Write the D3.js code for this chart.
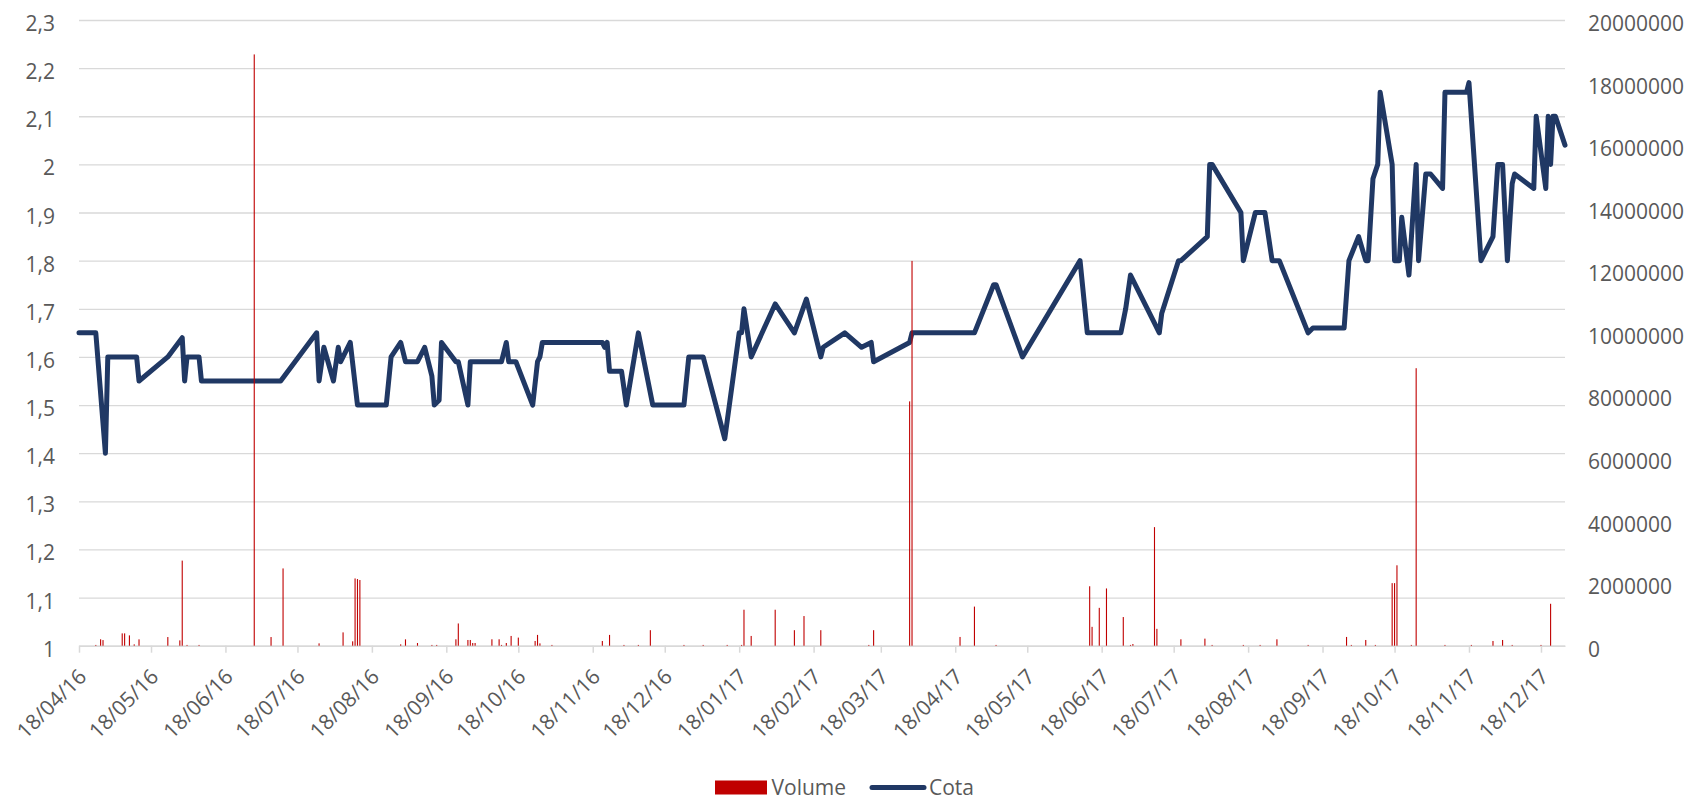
<!DOCTYPE html>
<html><head><meta charset="utf-8">
<script src="https://cdn.jsdelivr.net/npm/d3@7"></script>
<style>
body{margin:0;background:#fff;}
svg text{font-family:"Open Sans",sans-serif;fill:#595959;}
</style>
</head><body>
<svg id="chart" width="1687" height="800"></svg>
<script>
// ---------- DATA ----------
const seriesNames = ["Volume", "Cota"];

const cotaDates = [
"2016-04-18","2016-04-25","2016-04-29","2016-04-30","2016-05-12","2016-05-13","2016-05-25","2016-05-31","2016-06-01","2016-06-02",
"2016-06-07","2016-06-08","2016-07-11","2016-07-26","2016-07-27","2016-07-29","2016-08-02","2016-08-04","2016-08-05","2016-08-09",
"2016-08-12","2016-08-24","2016-08-26","2016-08-30","2016-09-01","2016-09-06","2016-09-09","2016-09-12","2016-09-13","2016-09-15",
"2016-09-16","2016-09-22","2016-09-23","2016-09-27","2016-09-28","2016-10-11","2016-10-13","2016-10-14","2016-10-17","2016-10-24",
"2016-10-26","2016-10-27","2016-10-28","2016-11-22","2016-11-23","2016-11-24","2016-11-25","2016-11-30","2016-12-02","2016-12-07",
"2016-12-13","2016-12-26","2016-12-28","2017-01-03","2017-01-12","2017-01-18","2017-01-19","2017-01-20","2017-01-23","2017-02-02",
"2017-02-10","2017-02-15","2017-02-21","2017-02-22","2017-03-03","2017-03-10","2017-03-14","2017-03-15","2017-03-30","2017-03-31",
"2017-04-26","2017-05-04","2017-05-05","2017-05-16","2017-06-09","2017-06-12","2017-06-26","2017-06-28","2017-06-30","2017-07-10",
"2017-07-12","2017-07-13","2017-07-20","2017-07-21","2017-08-01","2017-08-02","2017-08-03","2017-08-15","2017-08-16","2017-08-21",
"2017-08-25","2017-08-28","2017-08-31","2017-09-12","2017-09-14","2017-09-27","2017-09-29","2017-10-03","2017-10-06","2017-10-07",
"2017-10-09","2017-10-11","2017-10-12","2017-10-17","2017-10-18","2017-10-20","2017-10-21","2017-10-24","2017-10-27","2017-10-28",
"2017-10-31","2017-11-02","2017-11-07","2017-11-08","2017-11-17","2017-11-18","2017-11-23","2017-11-28","2017-11-30","2017-12-02",
"2017-12-04","2017-12-06","2017-12-07","2017-12-15","2017-12-16","2017-12-20","2017-12-21","2017-12-22","2017-12-23","2017-12-24",
"2017-12-28"];
const cotaValues = [
1.65,1.65,1.40,1.60,1.60,1.55,1.60,1.64,1.55,1.60,
1.60,1.55,1.55,1.65,1.55,1.62,1.55,1.62,1.59,1.63,
1.50,1.50,1.60,1.63,1.59,1.59,1.62,1.56,1.50,1.51,
1.63,1.59,1.59,1.50,1.59,1.59,1.63,1.59,1.59,1.50,
1.59,1.60,1.63,1.63,1.62,1.63,1.57,1.57,1.50,1.65,
1.50,1.50,1.60,1.60,1.43,1.65,1.65,1.70,1.60,1.71,
1.65,1.72,1.60,1.62,1.65,1.62,1.63,1.59,1.63,1.65,
1.65,1.75,1.75,1.60,1.80,1.65,1.65,1.70,1.77,1.67,
1.65,1.69,1.80,1.80,1.85,2.00,2.00,1.90,1.80,1.90,
1.90,1.80,1.80,1.65,1.66,1.66,1.80,1.85,1.80,1.80,
1.97,2.00,2.15,2.00,1.80,1.80,1.89,1.77,2.00,1.80,
1.98,1.98,1.95,2.15,2.15,2.17,1.80,1.85,2.00,2.00,
1.80,1.96,1.98,1.95,2.10,1.95,2.10,2.00,2.10,2.10,
2.04];

const volumeDates = [
"2016-04-25","2016-04-27","2016-04-28","2016-05-06","2016-05-07","2016-05-09","2016-05-11","2016-05-13","2016-05-25","2016-05-30",
"2016-05-31","2016-06-02","2016-06-07","2016-06-30","2016-07-07","2016-07-12","2016-07-27","2016-08-06","2016-08-10","2016-08-11",
"2016-08-12","2016-08-13","2016-08-30","2016-09-01","2016-09-06","2016-09-12","2016-09-14","2016-09-22","2016-09-23","2016-09-27",
"2016-09-28","2016-09-29","2016-09-30","2016-10-07","2016-10-10","2016-10-11","2016-10-13","2016-10-15","2016-10-18","2016-10-25",
"2016-10-26","2016-10-27","2016-11-01","2016-11-22","2016-11-25","2016-12-01","2016-12-07","2016-12-12","2016-12-26","2017-01-03",
"2017-01-13","2017-01-19","2017-01-20","2017-01-23","2017-02-02","2017-02-10","2017-02-14","2017-02-21","2017-03-13","2017-03-15",
"2017-03-30","2017-03-31","2017-04-20","2017-04-26","2017-05-05","2017-06-13","2017-06-14","2017-06-17","2017-06-20","2017-06-27",
"2017-06-30","2017-07-01","2017-07-10","2017-07-11","2017-07-21","2017-07-31","2017-08-03","2017-08-16","2017-08-23","2017-08-30",
"2017-09-12","2017-09-28","2017-09-30","2017-10-06","2017-10-10","2017-10-17","2017-10-18","2017-10-19","2017-10-25","2017-10-27",
"2017-11-08","2017-11-19","2017-11-28","2017-12-02","2017-12-06","2017-12-18","2017-12-22"];
const volumeValues = [
25000,205000,180000,394000,394000,330000,43000,203000,277000,170000,
2720000,25000,25000,18900000,277000,2470000,75000,426000,140000,2150000,
2130000,2100000,43000,203000,86000,25000,25000,205000,711000,183000,
183000,86000,86000,205000,205000,25000,86000,312000,259000,151000,
345000,75000,25000,151000,345000,25000,25000,496000,25000,25000,
25000,25000,1150000,312000,1150000,496000,948000,496000,25000,496000,
7810000,12300000,280000,1250000,25000,1900000,603000,1210000,1830000,916000,
25000,54000,3790000,539000,205000,226000,25000,25000,25000,205000,
25000,280000,25000,183000,25000,2000000,2000000,2570000,25000,8870000,
25000,25000,151000,183000,25000,25000,1340000];

const leftTicks = [1,1.1,1.2,1.3,1.4,1.5,1.6,1.7,1.8,1.9,2,2.1,2.2,2.3];
const leftTickLabels = ["1","1,1","1,2","1,3","1,4","1,5","1,6","1,7","1,8","1,9","2","2,1","2,2","2,3"];
const rightTicks = [0,2000000,4000000,6000000,8000000,10000000,12000000,14000000,16000000,18000000,20000000];
const rightTickLabels = ["0","2000000","4000000","6000000","8000000","10000000","12000000","14000000","16000000","18000000","20000000"];
const xTickDates = ["2016-04-18","2016-05-18","2016-06-18","2016-07-18","2016-08-18","2016-09-18","2016-10-18","2016-11-18","2016-12-18",
"2017-01-18","2017-02-18","2017-03-18","2017-04-18","2017-05-18","2017-06-18","2017-07-18","2017-08-18","2017-09-18","2017-10-18",
"2017-11-18","2017-12-18"];
const xTickLabels = ["18/04/16","18/05/16","18/06/16","18/07/16","18/08/16","18/09/16","18/10/16","18/11/16","18/12/16",
"18/01/17","18/02/17","18/03/17","18/04/17","18/05/17","18/06/17","18/07/17","18/08/17","18/09/17","18/10/17",
"18/11/17","18/12/17"];
const xDomain = ["2016-04-18","2017-12-28"];

// ---------- CHART ----------
const parse = d3.utcParse("%Y-%m-%d");
const L = 79, R = 1565, T = 20, B = 645.7;
const svg = d3.select("#chart");

const x = d3.scaleUtc().domain(xDomain.map(parse)).range([L, R]);
const yL = d3.scaleLinear().domain([1, 2.3]).range([B, T]);
const yR = d3.scaleLinear().domain([0, 20000000]).range([B, T]);

const gridColor = "#D9D9D9";

// gridlines
const grid = svg.append("g").attr("transform", `translate(${L},0)`)
  .call(d3.axisLeft(yL).tickValues(leftTicks).tickSize(-(R - L)).tickFormat(""));
grid.select(".domain").remove();
grid.selectAll("line").attr("stroke", gridColor).attr("stroke-width", 1.3);

// left axis labels
const la = svg.append("g").attr("transform", `translate(${L},0)`)
  .call(d3.axisLeft(yL).tickValues(leftTicks).tickSize(0).tickPadding(24)
    .tickFormat((d, i) => leftTickLabels[i]));
la.select(".domain").remove();
la.selectAll("text").attr("font-size", 21).attr("dy", "0.5em").style("font-family", '"Open Sans",sans-serif').attr("fill", "#595959");

// right axis labels
const ra = svg.append("g").attr("transform", `translate(${R},0)`)
  .call(d3.axisRight(yR).tickValues(rightTicks).tickSize(0).tickPadding(23)
    .tickFormat((d, i) => rightTickLabels[i]));
ra.select(".domain").remove();
ra.selectAll("text").attr("font-size", 21).attr("dy", "0.5em").style("font-family", '"Open Sans",sans-serif').attr("fill", "#595959");

// bottom axis
const xa = svg.append("g").attr("transform", `translate(0,${B})`)
  .call(d3.axisBottom(x).tickValues(xTickDates.map(parse)).tickSize(7).tickSizeOuter(0)
    .tickFormat((d, i) => xTickLabels[i]));
xa.select(".domain").attr("stroke", gridColor).attr("stroke-width", 1.5);
xa.selectAll(".tick line").attr("stroke", gridColor).attr("stroke-width", 1.5);
xa.selectAll("text")
  .attr("font-size", 21).attr("x", 0).attr("y", 0).attr("dy", "0.35em")
  .attr("text-anchor", "end")
  .attr("transform", "translate(3,27) rotate(-45)")
  .style("font-family", '"Open Sans",sans-serif').attr("fill", "#595959");

// Cota line
const cota = cotaDates.map((d, i) => ({date: parse(d), v: cotaValues[i]}));
svg.append("path").datum(cota)
  .attr("fill", "none").attr("stroke", "#203864").attr("stroke-width", 5)
  .attr("stroke-linejoin", "round").attr("stroke-linecap", "round")
  .attr("d", d3.line().x(d => x(d.date)).y(d => yL(d.v)));

// Volume bars
const vol = volumeDates.map((d, i) => ({date: parse(d), v: volumeValues[i]}));
const bw = 1.1;
svg.append("g").selectAll("rect").data(vol).join("rect")
  .attr("x", d => x(d.date) - bw / 2).attr("width", bw)
  .attr("y", d => yR(d.v)).attr("height", d => B - yR(d.v))
  .attr("fill", "#C00000");

// Legend
const lg = svg.append("g");
lg.append("rect").attr("x", 715).attr("y", 780.5).attr("width", 52).attr("height", 14).attr("fill", "#C00000");
lg.append("text").attr("x", 771.5).attr("y", 794.5).attr("font-size", 21).text(seriesNames[0]);
lg.append("line").attr("x1", 872).attr("x2", 924).attr("y1", 787.5).attr("y2", 787.5)
  .attr("stroke", "#203864").attr("stroke-width", 5).attr("stroke-linecap", "round");
lg.append("text").attr("x", 929).attr("y", 794.5).attr("font-size", 21).text(seriesNames[1]);
</script>
</body></html>
